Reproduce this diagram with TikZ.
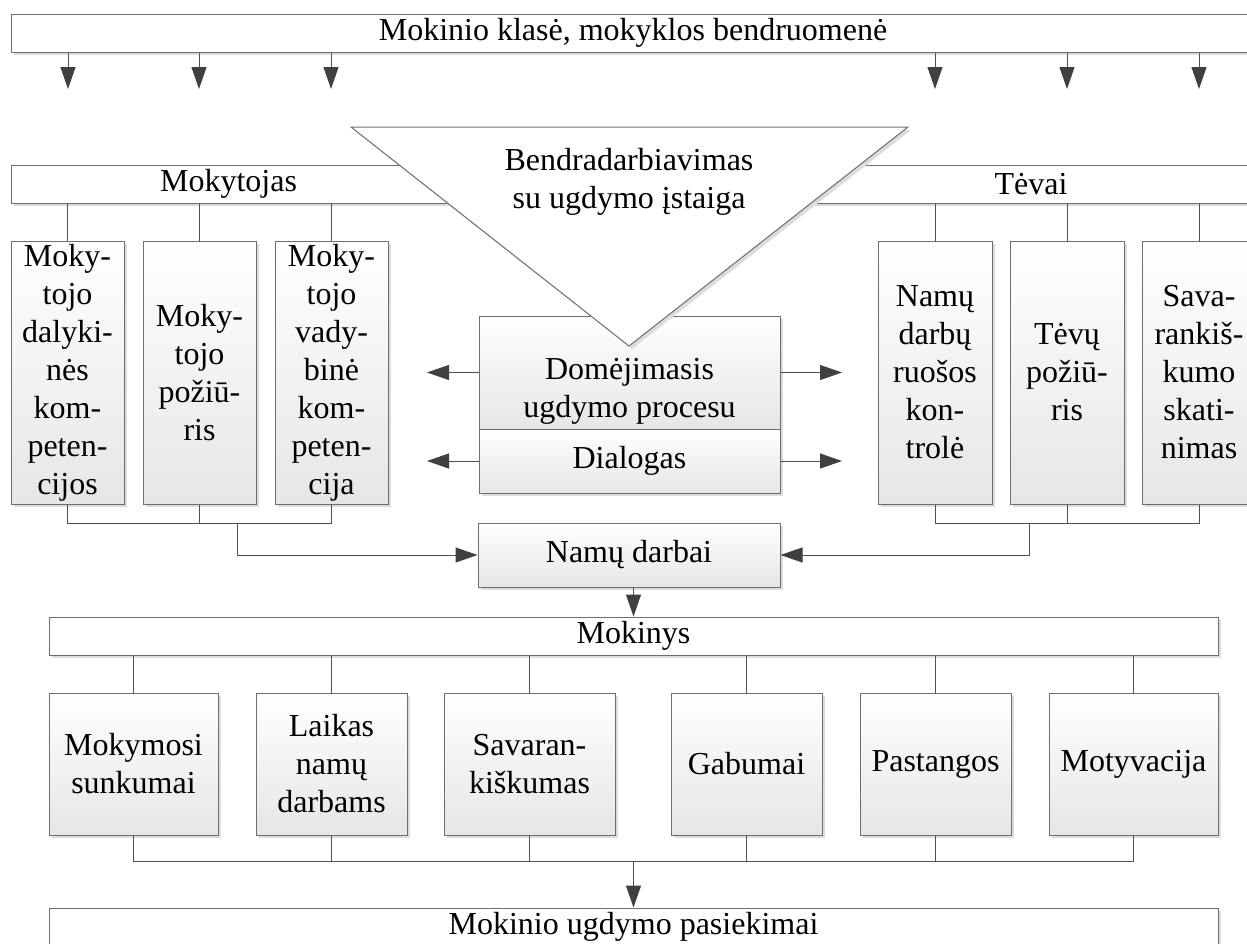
\documentclass[tikz,border=0pt]{standalone}
\usepackage{fontspec}
\setmainfont{Liberation Serif}
\usetikzlibrary{arrows.meta,shadows}
\definecolor{bordergray}{HTML}{6E6E6E}
\definecolor{linegray}{HTML}{505050}
\definecolor{tipgray}{HTML}{404040}
\definecolor{boxbottom}{HTML}{E6E6E6}
\definecolor{shadowgray}{HTML}{DCDCDC}
\tikzset{
  lbl/.style={font=\fontsize{32}{38}\selectfont, align=center, inner sep=0pt, text=black},
  shd/.style={drop shadow={shadow xshift=3pt, shadow yshift=-3pt, fill=shadowgray, opacity=1}},
  box/.style={lbl, rectangle, draw=bordergray, line width=1pt, top color=white, bottom color=boxbottom, shd},
  bar/.style={lbl, rectangle, draw=bordergray, line width=1pt, fill=white, shd, minimum height=38pt},
  conn/.style={draw=linegray, line width=1pt},
  arr/.style={conn, -{Triangle[length=22pt,width=15pt,color=tipgray]}},
}
\begin{document}
\begin{tikzpicture}[x=1pt,y=-1pt]
\useasboundingbox (0,0) rectangle (1247,943);
\clip (0,0) rectangle (1247,943);
\fill[white] (0,0) rectangle (1247,943);

% top bar
\node[bar, minimum width=1244pt] (top) at (633,33) {Mokinio klasė, mokyklos bendruomenė};
\foreach \i/\x in {1/68,2/199,3/331,4/935,5/1067,6/1199}{
  \coordinate (a\i) at (\x,89);
  \draw[arr] (top.south -| a\i) -- (a\i);
}

% Mokytojas / Tevai bars
\node[bar, minimum width=435pt] (mkbar) at (228.5,184) {Mokytojas};
\node[bar, minimum width=438pt] (tvbar) at (1031,184) {Tėvai};

% Mokytojas children
\node[box, minimum width=113pt, minimum height=263pt] (mk1) at (67.5,372.5) {Moky-\\tojo\\dalyki-\\nės\\kom-\\peten-\\cijos};
\node[box, minimum width=113pt, minimum height=263pt] (mk2) at (199.5,372.5) {Moky-\\tojo\\požiū-\\ris};
\node[box, minimum width=113pt, minimum height=263pt] (mk3) at (331.5,372.5) {Moky-\\tojo\\vady-\\binė\\kom-\\peten-\\cija};
% Tevai children
\node[box, minimum width=114pt, minimum height=263pt] (tv1) at (935,372.5) {Namų\\darbų\\ruošos\\kon-\\trolė};
\node[box, minimum width=114pt, minimum height=263pt] (tv2) at (1067,372.5) {Tėvų\\požiū-\\ris};
\node[box, minimum width=114pt, minimum height=263pt] (tv3) at (1199,372.5) {Sava-\\rankiš-\\kumo\\skati-\\nimas};

\foreach \n in {mk1,mk2,mk3}{\draw[conn] (mkbar.south -| \n.north) -- (\n.north);}
\foreach \n in {tv1,tv2,tv3}{\draw[conn] (tvbar.south -| \n.north) -- (\n.north);}

% center boxes
\node[box, minimum width=301pt, minimum height=113pt] (dom) at (629.5,372.5) {};
\node[box, minimum width=301pt, minimum height=64pt] (dial) at (629.5,461) {Dialogas};

% triangle
\path[draw=bordergray, line width=1pt, fill=white, shd] (351,127) -- (908,127) -- (629,346) -- cycle;
\node[lbl] (collab) at (629,182) {Bendradarbiavimas\\su ugdymo įstaiga};
\node[lbl] (domtext) at (629.5,391) {Domėjimasis\\ugdymo procesu};

\coordinate (dl1) at (427,372.5);
\coordinate (dr1) at (842,372.5);
\coordinate (dl2) at (427,461);
\coordinate (dr2) at (842,461);
\draw[arr] (dom.west) -- (dl1);
\draw[arr] (dom.east) -- (dr1);
\draw[arr] (dial.west) -- (dl2);
\draw[arr] (dial.east) -- (dr2);

% Namu darbai
\node[box, minimum width=302pt, minimum height=64pt] (nd) at (629,555) {Namų darbai};
\coordinate (mj) at (237,523);
\draw[conn] (mk1.south) |- (mj) -| (mk3.south);
\draw[conn] (mk2.south) -- (mk2.south |- mj);
\draw[arr] (mj) |- (nd.west);
\coordinate (tj) at (1029,523);
\draw[conn] (tv1.south) |- (tj) -| (tv3.south);
\draw[conn] (tv2.south) -- (tv2.south |- tj);
\draw[arr] (tj) |- (nd.east);

% Mokinys
\node[bar, minimum width=1169pt] (mokinys) at (633.5,636) {Mokinys};
\draw[arr] (nd.south -| mokinys.north) -- (mokinys.north);

\node[box, minimum width=169pt, minimum height=142pt] (b1) at (133.5,764) {Mokymosi\\sunkumai};
\node[box, minimum width=151pt, minimum height=142pt] (b2) at (331.5,764) {Laikas\\namų\\darbams};
\node[box, minimum width=171pt, minimum height=142pt] (b3) at (529.5,764) {Savaran-\\kiškumas};
\node[box, minimum width=151pt, minimum height=142pt] (b4) at (746.5,764) {Gabumai};
\node[box, minimum width=151pt, minimum height=142pt] (b5) at (935.5,764) {Pastangos};
\node[box, minimum width=169pt, minimum height=142pt] (b6) at (1133.5,764) {Motyvacija};
\foreach \n in {b1,b2,b3,b4,b5,b6}{\draw[conn] (mokinys.south -| \n.north) -- (\n.north);}

\node[bar, minimum width=1169pt] (res) at (633.5,927) {Mokinio ugdymo pasiekimai};
\coordinate (bj) at (633.5,861);
\draw[conn] (b1.south) |- (bj) -| (b6.south);
\foreach \n in {b2,b3,b4,b5}{\draw[conn] (\n.south) -- (\n.south |- bj);}
\draw[arr] (bj) -- (res.north);
\end{tikzpicture}
\end{document}
